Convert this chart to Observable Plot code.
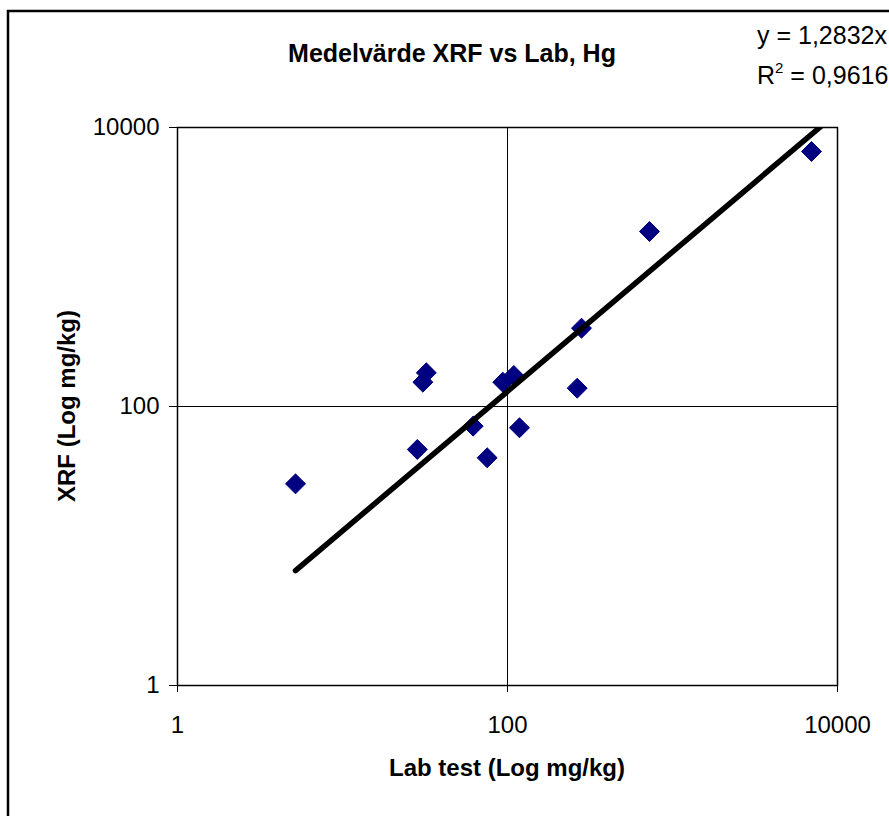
<!DOCTYPE html>
<html>
<head>
<meta charset="utf-8">
<script src="https://cdn.jsdelivr.net/npm/d3@7"></script>
<script src="https://cdn.jsdelivr.net/npm/@observablehq/plot@0.6"></script>
<style>
  html, body { margin: 0; padding: 0; background: #fff; }
  #chart svg { display: block; }
</style>
</head>
<body>
<div id="chart"></div>
<script>
// Data (Lab test vs XRF, mg/kg)
const labValues = [5.19, 28.4, 30.7, 32.2, 61.9, 75.3, 93.6, 109.2, 118.2, 264.5, 280.9, 725, 6960];
const xrfValues = [27.9, 49.2, 149.4, 174.4, 72.3, 42.9, 149.4, 166.8, 70.4, 135.3, 364.2, 1797, 6730];
const xTicks = [1, 100, 10000];
const yTicks = [1, 100, 10000];
const trendSlope = 1.2832;
const trendRange = [5.19, 7900];
const titleText = "Medelvärde XRF vs Lab, Hg";
const eqLine1 = "y = 1,2832x";
const eqR2 = "0,9616";
const xLabel = "Lab test (Log mg/kg)";
const yLabel = "XRF (Log mg/kg)";

const points = labValues.map((x, i) => ({x, y: xrfValues[i]}));
const trend = trendRange.map(x => ({x, y: trendSlope * x}));

const font = "'Liberation Sans', Arial, sans-serif";
const W = 889, H = 816;

const chart = Plot.plot({
  width: W,
  height: H,
  marginLeft: 177,
  marginRight: 52,
  marginTop: 127,
  marginBottom: 131,
  style: {fontFamily: font, fontSize: "24px", color: "#000", background: "#fff"},
  x: {type: "log", domain: [1, 10000]},
  y: {type: "log", domain: [1, 10000]},
  marks: [
    Plot.ruleX([100], {stroke: "#000", strokeWidth: 1}),
    Plot.ruleY([100], {stroke: "#000", strokeWidth: 1}),
    Plot.frame({stroke: "#000", strokeWidth: 1.5}),
    Plot.axisX({ticks: xTicks, tickFormat: d => String(d), tickSize: 7, tickPadding: 23, label: null, fontSize: 24, stroke: "#000"}),
    Plot.axisY({ticks: yTicks, tickFormat: d => String(d), tickSize: 8, tickPadding: 10, label: null, fontSize: 24, stroke: "#000"}),
    Plot.dot(points, {x: "x", y: "y", symbol: "diamond2", r: 9, fill: "#000080", stroke: "#000080", strokeWidth: 1}),
    Plot.line(trend, {x: "x", y: "y", stroke: "#000", strokeWidth: 5.5, clip: true})
  ]
});

const svg = d3.select(chart);
svg.style("overflow", "hidden");
// outer chart-area border
svg.append("rect").attr("x", 8).attr("y", 11).attr("width", W + 20).attr("height", H + 20)
  .attr("fill", "none").attr("stroke", "#000").attr("stroke-width", 2.5);

svg.append("text").attr("x", 452).attr("y", 62).attr("text-anchor", "middle")
  .style("font", `bold 25px ${font}`).text(titleText);

svg.append("text").attr("x", 757).attr("y", 44).attr("text-anchor", "start")
  .style("font", `25px ${font}`).text(eqLine1);
const r2 = svg.append("text").attr("x", 757).attr("y", 84).attr("text-anchor", "start").style("font", `25px ${font}`);
r2.append("tspan").text("R");
r2.append("tspan").attr("dy", -11).style("font-size", "15px").text("2");
r2.append("tspan").attr("dy", 11).text(" = " + eqR2);

svg.append("text").attr("x", 507).attr("y", 776).attr("text-anchor", "middle")
  .style("font", `bold 24px ${font}`).text(xLabel);

svg.append("text").attr("transform", "translate(75,406) rotate(-90)").attr("text-anchor", "middle")
  .style("font", `bold 24px ${font}`).text(yLabel);

document.getElementById("chart").appendChild(chart);
</script>
</body>
</html>
